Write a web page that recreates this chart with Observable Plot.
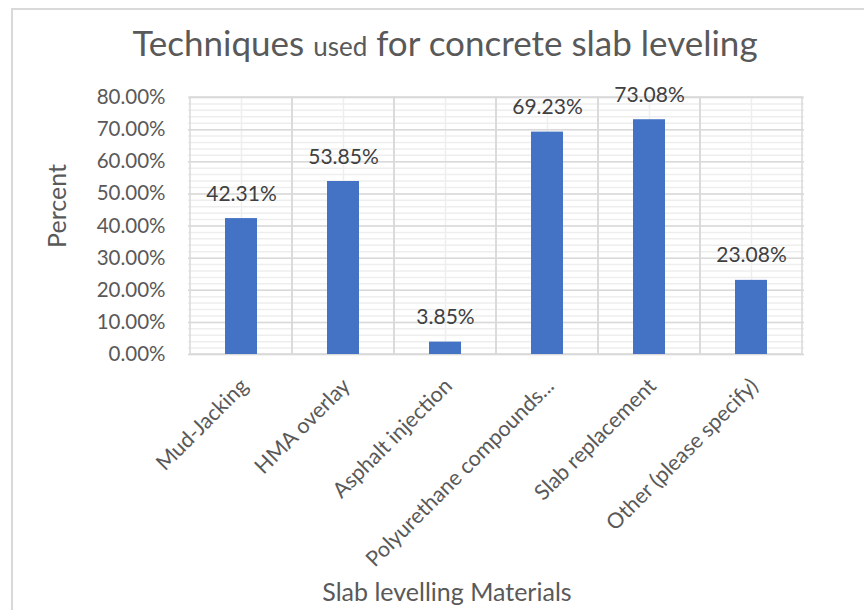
<!DOCTYPE html>
<html>
<head>
<meta charset="utf-8">
<script src="https://cdn.jsdelivr.net/npm/d3@7"></script>
<script src="https://cdn.jsdelivr.net/npm/@observablehq/plot@0.6"></script>
<style>
  body { margin: 0; background: #fff; }
  #chart { position: relative; width: 864px; height: 610px; overflow: hidden; font-family: Lato, sans-serif; color: #595959; }
  #frame { position: absolute; left: 11px; top: 8px; width: 900px; height: 700px; border-left: 2px solid #d9d9d9; border-top: 2px solid #d9d9d9; }
  #title { position: absolute; left: 445px; top: 42px; transform: translate(-50%, -50%); font-size: 35px; white-space: nowrap; }
  #title .small { font-size: 26px; }
  #ytitle { position: absolute; left: 56px; top: 206px; transform: translate(-50%, -50%) rotate(-90deg); font-size: 25px; white-space: nowrap; }
  #xtitle { position: absolute; left: 447px; top: 591px; transform: translate(-50%, -50%); font-size: 25px; white-space: nowrap; }
  svg { position: absolute; left: 0; top: 0; }
</style>
</head>
<body>
<div id="chart">
  <div id="frame"></div>
  <div id="title">Techniques <span class="small">used</span> for concrete slab leveling</div>
  <div id="ytitle">Percent</div>
  <div id="xtitle">Slab levelling Materials</div>
</div>
<script>
// Survey responses: share of respondents using each slab-leveling technique
const categories = [
  "Mud-Jacking",
  "HMA overlay",
  "Asphalt injection",
  "Polyurethane compounds...",
  "Slab replacement",
  "Other (please specify)"
];
const percents = [42.31, 53.85, 3.85, 69.23, 73.08, 23.08];
const yTicks = [0, 10, 20, 30, 40, 50, 60, 70, 80];

const rows = categories.map((category, i) => ({category, percent: percents[i]}));
const minorTicks = d3.range(0, 81, 2);
const fmt = v => v.toFixed(2) + "%";

const chart = Plot.plot({
  width: 864,
  height: 610,
  marginLeft: 188,
  marginRight: 60,
  marginTop: 97,
  marginBottom: 256,
  style: {fontFamily: "Lato, sans-serif", fontSize: "20.5px", color: "#595959", background: "transparent"},
  x: {domain: categories, padding: 0, axis: null},
  y: {domain: [0, 80], ticks: yTicks, tickFormat: fmt, tickSize: 0, tickPadding: 23, label: null},
  marks: [
    // minor gridlines
    Plot.ruleY(minorTicks, {stroke: "#eeeeee", strokeWidth: 1.5}),
    Plot.ruleX(categories, {stroke: "#eeeeee", strokeWidth: 1.5}),
    // major gridlines
    Plot.ruleY(yTicks, {stroke: "#d9d9d9", strokeWidth: 1.5}),
    Plot.barY(categories, {x: d => d, y: 80, fill: "none", stroke: "#d9d9d9", strokeWidth: 1.5}),
    // bars
    Plot.barY(rows, {x: "category", y: "percent", fill: "#4472c4", insetLeft: 35, insetRight: 35}),
    // value labels
    Plot.text(rows, {x: "category", y: "percent", text: d => fmt(d.percent), dy: -18, lineAnchor: "bottom", fontSize: 21, fill: "#404040"}),
    // rotated category labels
    Plot.text(categories, {x: d => d, frameAnchor: "bottom", dx: 3, dy: 28, rotate: -45, textAnchor: "end", lineAnchor: "middle", fontSize: 21.5, fill: "#595959"})
  ]
});
document.getElementById("chart").appendChild(chart);
</script>
</body>
</html>
